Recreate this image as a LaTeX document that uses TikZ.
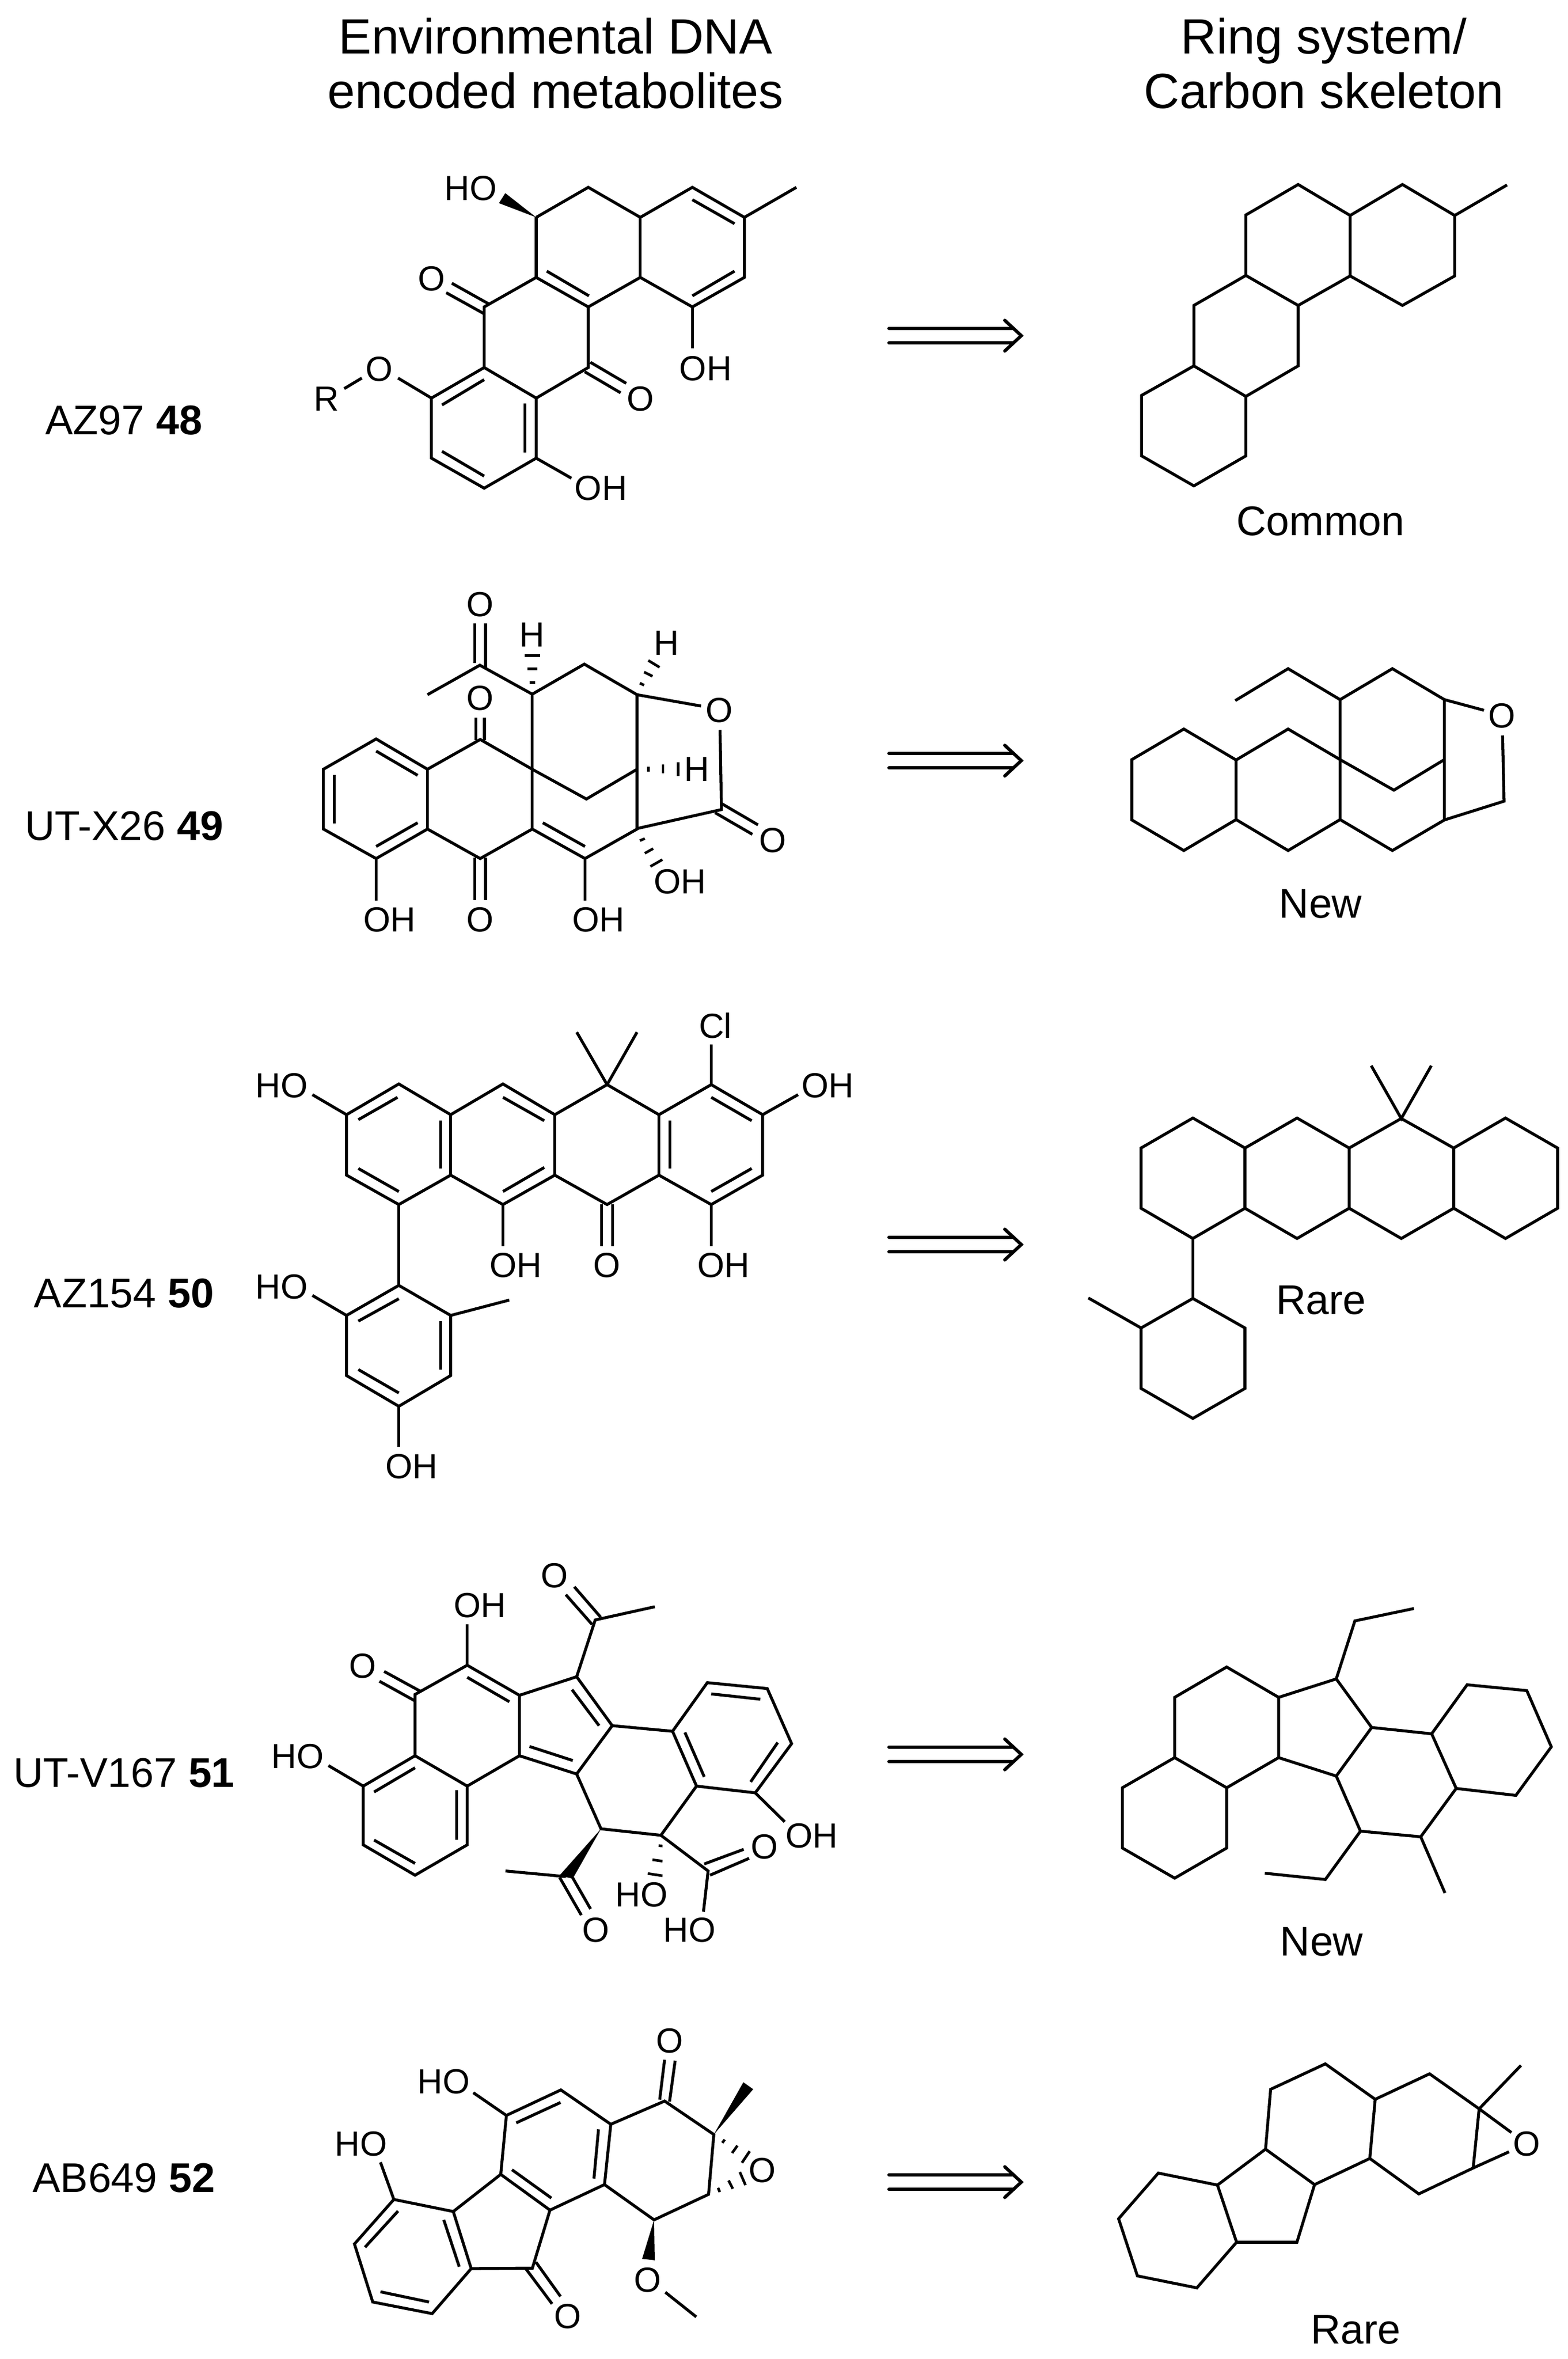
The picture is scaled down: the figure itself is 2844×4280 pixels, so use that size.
\documentclass[tikz,border=0pt]{standalone}
\usepackage{fontspec}
\setmainfont{Liberation Sans}
\usepackage{tikz}
\usetikzlibrary{positioning}

\tikzset{
  bond/.style={line width=1.5pt, line join=miter, line cap=butt},
  hashbar/.style={line width=1.35pt},
  wedge/.style={fill=black},
  atom/.style={inner sep=0pt, font=\fontsize{18}{18}\selectfont},
  title/.style={inner sep=0pt, align=center, font=\fontsize{25.5}{28}\selectfont},
  caption/.style={inner sep=0pt, font=\fontsize{21.4}{24}\selectfont},
  retro/.style={line width=1.7pt, line cap=round, line join=miter}
}
% double retrosynthesis arrow between two coordinates
\newcommand{\retroarrow}[2]{
  \coordinate (#1a) at (1613,#2);
  \coordinate (#1b) at (1853,#2);
  \draw[retro] ([yshift=3.8pt]#1a) -- ([xshift=-4pt,yshift=3.8pt]#1b);
  \draw[retro] ([yshift=-3.8pt]#1a) -- ([xshift=-4pt,yshift=-3.8pt]#1b);
  \draw[retro] ([xshift=-8.5pt,yshift=7.9pt]#1b) -- (#1b) -- ([xshift=-8.5pt,yshift=-7.9pt]#1b);
}

\begin{document}
\begin{tikzpicture}[x=0.01cm, y=-0.01cm]
  \useasboundingbox (0,0) rectangle (2844,4280);

  % headers
  \node[title] (headleft) at (1008,115) {Environmental DNA\\encoded metabolites};
  \node[title] (headright) at (2402,115) {Ring system/\\Carbon skeleton};

  % compound names
  \node[caption] (name48) at (225,763) {AZ97 \textbf{48}};
  \node[caption] (name49) at (225,1499) {UT-X26 \textbf{49}};
  \node[caption] (name50) at (225,2347) {AZ154 \textbf{50}};
  \node[caption] (name51) at (225,3217) {UT-V167 \textbf{51}};
  \node[caption] (name52) at (225,3952) {AB649 \textbf{52}};

  % arrows
  \retroarrow{arrow48}{609}
  \retroarrow{arrow49}{1380}
  \retroarrow{arrow50}{2258}
  \retroarrow{arrow51}{3183}
  \retroarrow{arrow52}{3959}

  % AZ97
  \begin{scope}[shift={(400,250)}, xscale=0.638, yscale=0.478]
  \draw[bond] (898,302) -- (1046,188) -- (1194,302) -- (1342,188) -- (1490,302) -- (1490,530) -- (1342,642) -- (1194,530) -- (1046,642) -- (898,530) -- (750,642) -- (750,872) -- (898,988) -- (1046,872) -- (1046,642);
  \draw[bond] (898,302) -- (898,530);
  \draw[bond] (1194,302) -- (1194,530);
  \draw[bond] (1490,302) -- (1638,188);
  \draw[bond] (750,872) -- (600,988) -- (600,1216) -- (750,1330) -- (898,1216) -- (898,988);
  \draw[bond] (1342,235) -- (1462,326);
  \draw[bond] (1462,506) -- (1342,600);
  \draw[bond] (928,506) -- (1048,600);
  \draw[bond] (750,918) -- (630,1014);
  \draw[bond] (866,1008) -- (866,1194);
  \draw[bond] (630,1190) -- (750,1284);
  \draw[bond] (658,552) -- (765,632);
  \draw[bond] (642,588) -- (750,668);
  \draw[bond] (1052,852) -- (1154,932);
  \draw[bond] (1036,888) -- (1138,968);
  \draw[bond] (1342,642) -- (1342,800);
  \draw[bond] (898,1216) -- (998,1292);
  \draw[bond] (600,988) -- (505,912);
  \draw[bond] (402,912) -- (352,952);
  \fill[wedge] (898,302) -- (810,210) -- (792,248) -- cycle;
  \node[atom] (ho48a) at (712,192) {HO};
  \node[atom] (o48a) at (600,535) {O};
  \node[atom] (o48b) at (1194,990) {O};
  \node[atom] (oh48a) at (1380,875) {OH};
  \node[atom] (oh48b) at (1082,1330) {OH};
  \node[atom] (o48c) at (452,878) {O};
  \node[atom] (r48) at (302,990) {R};
  \end{scope}

  % UT-X26
  \begin{scope}[shift={(500,1030)}, xscale=0.638, yscale=0.478]
  \draw[bond] (432,482) -- (581,370) -- (730,480) -- (878,366) -- (1028,482) -- (1028,992) -- (880,1104) -- (730,992) -- (582,1104) -- (432,992) -- (286,1104) -- (136,992) -- (136,765) -- (286,650) -- (432,765) -- (582,652) -- (730,765) -- (884,878) -- (1028,765);
  \draw[bond] (730,480) -- (730,992);
  \draw[bond] (432,765) -- (432,992);
  \draw[bond] (567,212) -- (567,362);
  \draw[bond] (597,212) -- (597,380);
  \draw[bond] (1028,482) -- (1210,525);
  \draw[bond] (1264,616) -- (1268,918) -- (1028,990);
  \draw[bond] (1268,895) -- (1372,976);
  \draw[bond] (1250,930) -- (1356,1012);
  \draw[bond] (286,696) -- (404,788);
  \draw[bond] (167,786) -- (167,970);
  \draw[bond] (286,1058) -- (404,968);
  \draw[bond] (760,968) -- (880,1058);
  \draw[bond] (570,568) -- (570,655);
  \draw[bond] (594,568) -- (594,655);
  \draw[bond] (567,1100) -- (567,1262);
  \draw[bond] (597,1100) -- (597,1262);
  \draw[bond] (286,1104) -- (286,1264);
  \draw[bond] (880,1104) -- (880,1264);
  % hashed bonds
  \draw[hashbar] (722,436) -- (738,436);
  \draw[hashbar] (717,384) -- (744,384);
  \draw[hashbar] (709,334) -- (752,334);
  \draw[hashbar] (1036,438) -- (1048,446);
  \draw[hashbar] (1048,396) -- (1072,412);
  \draw[hashbar] (1060,352) -- (1092,378);
  \draw[hashbar] (1060,755) -- (1060,775);
  \draw[hashbar] (1102,746) -- (1102,780);
  \draw[hashbar] (1145,738) -- (1145,790);
  \draw[hashbar] (1036,1036) -- (1050,1028);
  \draw[hashbar] (1050,1084) -- (1074,1066);
  \draw[hashbar] (1066,1134) -- (1100,1108);
  \node[atom] (o49a) at (581,140) {O};
  \node[atom] (h49a) at (730,255) {H};
  \node[atom] (h49b) at (1112,285) {H};
  \node[atom] (o49b) at (581,495) {O};
  \node[atom] (o49c) at (1262,542) {O};
  \node[atom] (h49c) at (1198,765) {H};
  \node[atom] (o49d) at (1414,1035) {O};
  \node[atom] (oh49a) at (1150,1192) {OH};
  \node[atom] (oh49b) at (324,1337) {OH};
  \node[atom] (o49e) at (581,1337) {O};
  \node[atom] (oh49c) at (918,1337) {OH};
  \end{scope}

  % AZ154
  \begin{scope}[shift={(400,1800)}, xscale=0.765, yscale=0.606]
  \draw[bond] (299,367) -- (423,275) -- (546,367) -- (670,275) -- (793,367) -- (917,277) -- (1040,367) -- (1164,277) -- (1286,367) -- (1286,548) -- (1164,636) -- (1040,548) -- (917,636) -- (793,548) -- (670,636) -- (546,548) -- (423,636) -- (299,548) -- cycle;
  \draw[bond] (546,367) -- (546,548);
  \draw[bond] (793,367) -- (793,548);
  \draw[bond] (1040,367) -- (1040,548);
  \draw[bond] (917,277) -- (845,120);
  \draw[bond] (917,277) -- (988,120);
  \draw[bond] (1164,277) -- (1164,157);
  \draw[bond] (1286,367) -- (1370,307);
  \draw[bond] (1164,636) -- (1164,760);
  \draw[bond] (904,636) -- (904,760);
  \draw[bond] (930,636) -- (930,760);
  \draw[bond] (670,636) -- (670,760);
  \draw[bond] (299,367) -- (218,307);
  \draw[bond] (423,636) -- (423,878);
  \draw[bond] (423,878) -- (546,968) -- (546,1148) -- (423,1240) -- (299,1148) -- (299,968) -- cycle;
  \draw[bond] (546,968) -- (685,922);
  \draw[bond] (299,968) -- (218,908);
  \draw[bond] (423,1240) -- (423,1362);
  \draw[bond] (420,315) -- (327,382);
  \draw[bond] (327,528) -- (423,597);
  \draw[bond] (522,385) -- (522,528);
  \draw[bond] (670,315) -- (768,385);
  \draw[bond] (768,525) -- (670,597);
  \draw[bond] (1066,385) -- (1066,528);
  \draw[bond] (1164,315) -- (1260,385);
  \draw[bond] (1260,528) -- (1164,597);
  \draw[bond] (423,918) -- (327,985);
  \draw[bond] (522,985) -- (522,1130);
  \draw[bond] (327,1130) -- (423,1200);
  \node[atom] (cl50) at (1174,100) {Cl};
  \node[atom] (ho50a) at (145,280) {HO};
  \node[atom] (oh50a) at (1440,280) {OH};
  \node[atom] (oh50b) at (700,818) {OH};
  \node[atom] (o50) at (917,818) {O};
  \node[atom] (oh50c) at (1193,818) {OH};
  \node[atom] (ho50b) at (145,882) {HO};
  \node[atom] (oh50d) at (453,1420) {OH};
  \end{scope}

  % UT-V167
  \begin{scope}[shift={(450,2780)}, xscale=0.7015, yscale=0.51]
  \draw[bond] (432,795) -- (567,903) -- (567,1112) -- (432,1220) -- (298,1112) -- (298,903) -- cycle;
  \draw[bond] (432,795) -- (432,577) -- (567,473) -- (702,580) -- (702,795) -- (567,903);
  \draw[bond] (702,580) -- (850,514) -- (942,688) -- (850,860) -- (702,795);
  \draw[bond] (942,688) -- (1098,708) -- (1160,903) -- (1068,1078) -- (913,1055) -- (850,860);
  \draw[bond] (1098,708) -- (1188,535) -- (1343,556) -- (1406,752) -- (1312,927) -- (1160,903);
  \draw[bond] (567,516) -- (676,603);
  \draw[bond] (326,924) -- (432,838);
  \draw[bond] (540,918) -- (540,1095);
  \draw[bond] (326,1095) -- (432,1178);
  \draw[bond] (838,560) -- (908,688);
  \draw[bond] (728,762) -- (840,812);
  \draw[bond] (1130,712) -- (1180,870);
  \draw[bond] (1198,575) -- (1325,594);
  \draw[bond] (1370,748) -- (1300,888);
  \draw[bond] (850,514) -- (898,312) -- (1052,265);
  \draw[bond] (822,222) -- (890,328);
  \draw[bond] (844,194) -- (912,302);
  \draw[bond] (567,473) -- (567,328);
  \draw[bond] (352,495) -- (445,565);
  \draw[bond] (340,530) -- (432,600);
  \draw[bond] (298,903) -- (208,830);
  \draw[bond] (1312,927) -- (1388,1030);
  \draw[bond] (1068,1078) -- (1190,1205) -- (1178,1350);
  \draw[bond] (1180,1180) -- (1282,1128);
  \draw[bond] (1195,1220) -- (1296,1160);
  \draw[bond] (822,1225) -- (666,1205);
  \draw[bond] (806,1228) -- (862,1362);
  \draw[bond] (838,1225) -- (886,1340);
  \fill[wedge] (913,1055) -- (805,1222) -- (840,1232) -- cycle;
  \draw[hashbar] (1062,1115) -- (1072,1116);
  \draw[hashbar] (1046,1165) -- (1072,1170);
  \draw[hashbar] (1034,1214) -- (1072,1222);
  \node[atom] (o51a) at (793,155) {O};
  \node[atom] (oh51a) at (600,260) {OH};
  \node[atom] (o51b) at (297,475) {O};
  \node[atom] (ho51a) at (128,797) {HO};
  \node[atom] (oh51b) at (1458,1080) {OH};
  \node[atom] (o51c) at (1336,1118) {O};
  \node[atom] (ho51b) at (1018,1290) {HO};
  \node[atom] (ho51c) at (1142,1415) {HO};
  \node[atom] (o51d) at (900,1415) {O};
  \end{scope}

  % AB649
  \begin{scope}[shift={(550,3620)}, xscale=0.638, yscale=0.421]
  \draw[bond] (258,880) -- (427,932) -- (478,1178) -- (367,1372) -- (198,1322) -- (146,1072) -- cycle;
  \draw[bond] (427,932) -- (562,772) -- (702,926) -- (652,1176) -- (478,1178);
  \draw[bond] (562,772) -- (578,518) -- (733,408) -- (875,556) -- (857,816) -- (702,926);
  \draw[bond] (875,556) -- (1028,456) -- (1168,600) -- (1153,858) -- (998,968) -- (857,816);
  \draw[bond] (270,930) -- (176,1086);
  \draw[bond] (400,968) -- (444,1170);
  \draw[bond] (220,1278) -- (358,1322);
  \draw[bond] (594,752) -- (706,874);
  \draw[bond] (606,550) -- (732,462);
  \draw[bond] (840,578) -- (827,790);
  \draw[bond] (1028,278) -- (1014,450);
  \draw[bond] (1058,282) -- (1042,458);
  \draw[bond] (662,1150) -- (732,1298);
  \draw[bond] (634,1180) -- (708,1330);
  \draw[bond] (578,518) -- (484,420);
  \draw[bond] (258,880) -- (220,720);
  \draw[bond] (1030,1280) -- (1118,1386);
  \fill[wedge] (1168,600) -- (1252,375) -- (1280,405) -- cycle;
  \fill[wedge] (998,968) -- (964,1136) -- (1000,1142) -- cycle;
  \draw[hashbar] (1192,636) -- (1199,622);
  \draw[hashbar] (1220,680) -- (1235,648);
  \draw[hashbar] (1248,722) -- (1270,672);
  \draw[hashbar] (1180,830) -- (1185,848);
  \draw[hashbar] (1210,798) -- (1222,834);
  \draw[hashbar] (1242,762) -- (1258,818);
  \node[atom] (o52a) at (1043,197) {O};
  \node[atom] (ho52a) at (400,372) {HO};
  \node[atom] (ho52b) at (165,640) {HO};
  \node[atom] (o52b) at (1306,755) {O};
  \node[atom] (o52c) at (980,1228) {O};
  \node[atom] (o52d) at (752,1385) {O};
  \end{scope}

  % skeleton 48
  \begin{scope}[shift={(2000,250)}, xscale=0.536, yscale=0.446]
  \draw[bond] (133,1048) -- (310,928) -- (486,1052) -- (486,1294) -- (310,1416) -- (133,1294) -- cycle;
  \draw[bond] (310,928) -- (310,682) -- (486,560) -- (663,682) -- (663,928) -- (486,1052);
  \draw[bond] (486,560) -- (486,314) -- (663,190) -- (839,316) -- (839,562) -- (663,682);
  \draw[bond] (839,316) -- (1016,190) -- (1193,316) -- (1193,562) -- (1016,682) -- (839,562);
  \draw[bond] (1193,316) -- (1370,192);
  \end{scope}
  \node[caption] (common) at (2396,946) {Common};

  % skeleton 49
  \begin{scope}[shift={(2000,1150)}, xscale=0.536, yscale=0.351]
  \draw[bond] (100,650) -- (276,492) -- (453,652) -- (453,960) -- (276,1120) -- (100,962) -- cycle;
  \draw[bond] (453,652) -- (629,492) -- (805,650) -- (805,960) -- (629,1120) -- (453,960);
  \draw[bond] (805,960) -- (982,1120) -- (1158,962) -- (1158,340) -- (982,180) -- (805,340) -- (805,650);
  \draw[bond] (805,340) -- (629,180) -- (450,345);
  \draw[bond] (805,650) -- (987,808) -- (1158,650);
  \draw[bond] (1158,340) -- (1292,395);
  \draw[bond] (1355,525) -- (1360,865) -- (1158,962);
  \node[atom] (o49s) at (1352,425) {O};
  \end{scope}
  \node[caption] (new49) at (2396,1640) {New};

  % skeleton 50
  \begin{scope}[shift={(1930,1900)}, xscale=0.58, yscale=0.446]
  \draw[bond] (404,288) -- (567,410) -- (567,655) -- (404,778) -- (242,655) -- (242,410) -- cycle;
  \draw[bond] (567,410) -- (730,288) -- (893,410) -- (893,655) -- (730,778) -- (567,655);
  \draw[bond] (893,410) -- (1056,290) -- (1220,410) -- (1220,655) -- (1056,778) -- (893,655);
  \draw[bond] (1220,410) -- (1382,288) -- (1545,410) -- (1545,655) -- (1382,778) -- (1220,655);
  \draw[bond] (962,75) -- (1056,290) -- (1150,75);
  \draw[bond] (404,778) -- (404,1022);
  \draw[bond] (404,1022) -- (567,1142) -- (567,1388) -- (404,1510) -- (242,1388) -- (242,1142) -- cycle;
  \draw[bond] (242,1142) -- (77,1020);
  \end{scope}
  \node[caption] (rare50) at (2397,2359) {Rare};

  % skeleton 51
  \begin{scope}[shift={(2000,2900)}, xscale=0.536, yscale=0.408]
  \draw[bond] (68,842) -- (245,708) -- (421,842) -- (421,1110) -- (245,1244) -- (68,1110) -- cycle;
  \draw[bond] (245,708) -- (245,440) -- (421,305) -- (597,440) -- (597,708) -- (421,842);
  \draw[bond] (597,440) -- (792,358) -- (912,574) -- (792,790) -- (597,708);
  \draw[bond] (792,358) -- (855,100) -- (1055,45);
  \draw[bond] (912,574) -- (1115,602) -- (1198,845) -- (1078,1060) -- (874,1035) -- (792,790);
  \draw[bond] (1115,602) -- (1235,384) -- (1437,410) -- (1520,660) -- (1400,876) -- (1198,845);
  \draw[bond] (874,1035) -- (755,1250) -- (550,1222);
  \draw[bond] (1078,1060) -- (1160,1310);
  \end{scope}
  \node[caption] (new51) at (2398,3523) {New};

  % skeleton 52
  \begin{scope}[shift={(1990,3650)}, xscale=0.542, yscale=0.402]
  \draw[bond] (206,728) -- (404,782) -- (468,1040) -- (335,1246) -- (136,1192) -- (73,934) -- cycle;
  \draw[bond] (404,782) -- (565,620) -- (729,780) -- (670,1040) -- (468,1040);
  \draw[bond] (565,620) -- (582,350) -- (765,235) -- (932,395) -- (914,662) -- (729,780);
  \draw[bond] (932,395) -- (1114,280) -- (1280,438) -- (1260,705) -- (1078,822) -- (914,662);
  \draw[bond] (1280,438) -- (1420,242);
  \draw[bond] (1280,438) -- (1388,545);
  \draw[bond] (1260,705) -- (1380,632);
  \node[atom] (o52s) at (1440,597) {O};
  \end{scope}
  \node[caption] (rare52) at (2460,4227) {Rare};
\end{tikzpicture}
\end{document}
